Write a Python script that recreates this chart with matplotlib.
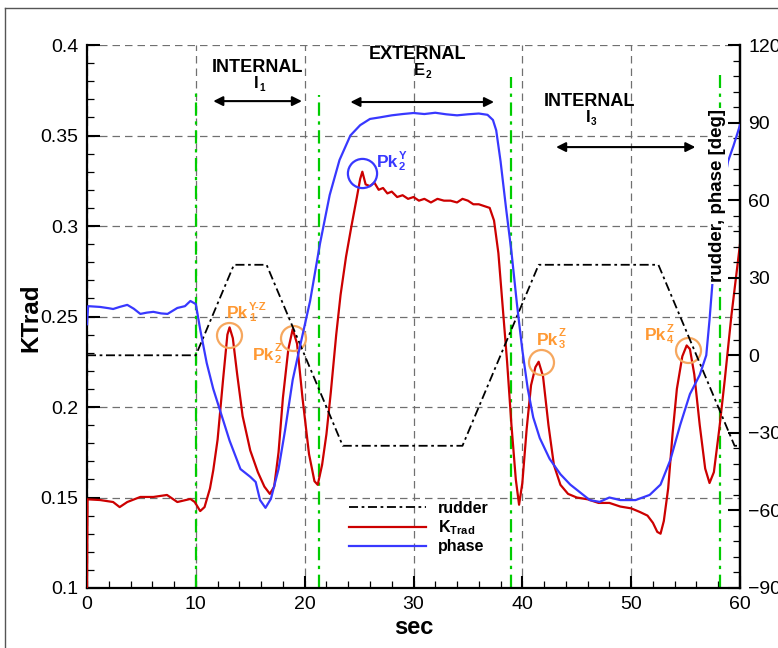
import matplotlib
matplotlib.use("Agg")
import matplotlib.pyplot as plt
from matplotlib.lines import Line2D
from matplotlib.ticker import MultipleLocator

plt.rcParams['font.family'] = ['Liberation Sans', 'DejaVu Sans']
plt.rcParams['mathtext.fontset'] = 'custom'
plt.rcParams['mathtext.rm'] = 'Liberation Sans'
plt.rcParams['mathtext.bf'] = 'Liberation Sans:bold'

# ---- time histories ----
rudder_t = [0, 10, 13.5, 16.5, 23.5, 34.5, 41.5, 52.5, 59.5, 60]
rudder_deg = [0, 0, 35, 35, -35, -35, 35, 35, -35, -35]

ktrad_t = [0.0, 0.05, 1.2, 2.4, 3.0, 3.7, 4.9, 6.1, 7.35, 8.3, 9.5, 9.9, 10.4, 10.8,
           11.3, 11.6, 12.0, 12.5, 12.9, 13.1, 13.4, 13.8, 14.3, 15.0, 15.7, 16.3,
           16.8, 17.2, 17.6, 18.0, 18.5, 18.9, 19.3, 19.8, 20.4, 20.9, 21.2, 21.6,
           22.0, 22.4, 22.9, 23.3, 23.8, 24.3, 24.8, 25.1, 25.3, 25.6, 26.0, 26.4,
           26.8, 27.2, 27.6, 28.0, 28.5, 29.0, 29.5, 30.0, 30.5, 31.0, 31.6, 32.2,
           32.8, 33.4, 34.0, 34.5, 35.0, 35.5, 36.0, 36.5, 37.0, 37.4, 37.8, 38.2,
           38.6, 39.0, 39.4, 39.7, 40.0, 40.4, 40.8, 41.2, 41.5, 41.9, 42.4, 42.9,
           43.5, 44.2, 45.0, 46.0, 47.0, 48.0, 49.0, 50.0, 50.8, 51.5, 52.0, 52.4,
           52.7, 53.0, 53.4, 53.8, 54.2, 54.7, 55.1, 55.4, 55.8, 56.3, 56.8, 57.2,
           57.6, 58.1, 58.6, 59.2, 59.6, 60.0]
ktrad = [0.100, 0.149, 0.1486, 0.1475, 0.1447, 0.1475, 0.1503, 0.1503, 0.1514, 0.1475,
         0.1492, 0.1475, 0.1425, 0.1447, 0.155, 0.165, 0.182, 0.215, 0.240, 0.244,
         0.238, 0.218, 0.195, 0.176, 0.164, 0.156, 0.152, 0.156, 0.175, 0.205,
         0.232, 0.243, 0.235, 0.205, 0.174, 0.159, 0.157, 0.168, 0.185, 0.208,
         0.240, 0.262, 0.283, 0.300, 0.316, 0.326, 0.330, 0.323, 0.322, 0.324,
         0.320, 0.321, 0.318, 0.319, 0.316, 0.317, 0.315, 0.316, 0.314, 0.315,
         0.313, 0.315, 0.314, 0.314, 0.313, 0.315, 0.314, 0.312, 0.312, 0.311,
         0.310, 0.303, 0.285, 0.255, 0.225, 0.190, 0.160, 0.146, 0.158, 0.188,
         0.212, 0.222, 0.225, 0.217, 0.190, 0.168, 0.157, 0.152, 0.150, 0.149,
         0.147, 0.147, 0.145, 0.144, 0.142, 0.140, 0.136, 0.131, 0.130, 0.137,
         0.155, 0.185, 0.210, 0.228, 0.234, 0.232, 0.218, 0.190, 0.166, 0.158,
         0.164, 0.188, 0.215, 0.250, 0.270, 0.290]

phase_t = [0.0, 0.1, 1.2, 2.0, 2.4, 3.0, 3.7, 4.3, 4.9, 5.5, 6.1, 6.8, 7.4, 8.3, 9.0,
           9.5, 10.0, 10.4, 11.0, 11.6, 12.2, 13.1, 14.1, 15.0, 15.5, 15.9, 16.4,
           16.9, 17.6, 18.2, 18.9, 19.6, 20.5, 21.4, 22.3, 23.2, 24.2, 25.1, 26.0,
           26.9, 28.0, 29.0, 30.0, 31.0, 32.0, 33.0, 34.0, 35.0, 36.0, 36.8, 37.3,
           37.6, 38.0, 38.5, 39.0, 39.5, 40.0, 40.5, 41.0, 41.6, 42.5, 43.5, 44.4,
           45.3, 46.2, 47.1, 48.0, 49.0, 50.4, 51.7, 52.7, 53.6, 54.5, 55.4, 56.3,
           56.9, 57.2, 57.6, 58.2, 58.9, 59.4, 60.0]
phase_deg = [12, 19, 18.7, 18.2, 17.9, 18.7, 19.5, 18, 16.0, 16.5, 16.8, 16.2, 16.0,
             18.3, 19, 21, 19.8, 10, -3, -13, -21, -33, -44, -47, -49, -56, -59,
             -55.5, -44, -29, -9.5, 4, 21, 43, 62, 75.5, 85, 89, 91.4, 92, 92.8,
             93.3, 93.7, 93.3, 93.8, 93.2, 92.8, 93.2, 93.5, 93, 91, 87, 75, 57,
             40, 20, 2, -13, -24, -32, -40, -46, -50, -53, -56, -56.7, -55, -56,
             -56, -54, -50, -40.5, -27, -15, -7.6, 0, 13.7, 35, 58, 75, 81, 89]

# regime switches (green) and the level where each marker line stops
switch_t = [10.0, 21.3, 38.95, 58.2]
switch_top = [0.3735, 0.3724, 0.3823, 0.3834]

# tracked peaks
peak_t = [13.05, 18.9, 41.7, 55.2]
peak_k = [0.2398, 0.2381, 0.2249, 0.2315]
peak_sub = ['1', '2', '3', '4']
peak_sup = ['Y-Z', 'Z', 'Z', 'Z']
peak_lab_t = [12.86, 15.25, 41.35, 51.27]
peak_lab_k = [0.2492, 0.2260, 0.2343, 0.2370]
ypeak_t, ypeak_k = 25.27, 0.3293
ypeak_lab_t, ypeak_lab_k = 26.65, 0.3326

ORANGE = '#FF9933'
ORANGE_RING = '#F6A75E'
RED = '#CC0000'
BLUE = '#3838FF'
GREEN = '#00CC00'

fig = plt.figure(figsize=(7.78, 6.48), dpi=100)
ax = fig.add_axes([87 / 778, 60 / 648, 653 / 778, 543 / 648])
ax2 = ax.twinx()

# left axis: KTrad
ax.set_xlim(0, 60)
ax.set_ylim(0.1, 0.4)
ax.xaxis.set_major_locator(MultipleLocator(10))
ax.xaxis.set_minor_locator(MultipleLocator(2))
ax.yaxis.set_major_locator(MultipleLocator(0.05))
ax.yaxis.set_minor_locator(MultipleLocator(0.01))
ax.set_yticks([0.1, 0.15, 0.2, 0.25, 0.3, 0.35, 0.4])
ax.set_yticklabels(['0.1', '0.15', '0.2', '0.25', '0.3', '0.35', '0.4'])
ax.grid(True, which='major', color='#707070', lw=0.9, ls=(0, (6, 4)))

# right axis: rudder, phase
ax2.set_ylim(-90, 120)
ax2.yaxis.set_major_locator(MultipleLocator(30))
ax2.yaxis.set_minor_locator(MultipleLocator(6))

for a in (ax, ax2):
    a.spines['top'].set_visible(False)
    for s in a.spines.values():
        s.set_linewidth(1.6)
ax2.spines['left'].set_visible(False)
ax2.spines['bottom'].set_visible(False)

ax.tick_params(which='major', direction='in', length=9, width=1.5, labelsize=14, pad=6,
               top=False, right=False)
ax.tick_params(which='minor', direction='in', length=5, width=0.9, top=False, right=False)
ax2.tick_params(which='major', direction='in', length=9, width=1.5, labelsize=14, pad=6)
ax2.tick_params(which='minor', direction='in', length=5, width=0.9)

# curves
for t, top in zip(switch_t, switch_top):
    ax.plot([t, t], [0.1, top], color=GREEN, lw=1.6, ls=(0, (6, 2.5, 1.5, 2.5)), zorder=2)
lk, = ax.plot(ktrad_t, ktrad, color=RED, lw=1.6, zorder=3)
lr, = ax2.plot(rudder_t, rudder_deg, color='black', lw=1.3, ls=(0, (5, 2, 1.5, 2)), zorder=2)
lp, = ax2.plot(phase_t, phase_deg, color=BLUE, lw=1.6, zorder=3)

# peak rings
ax.plot(peak_t, peak_k, 'o', ms=18, mfc='none', mec=ORANGE_RING, mew=1.6, zorder=4)
ax.plot([ypeak_t], [ypeak_k], 'o', ms=21, mfc='none', mec=BLUE, mew=1.6, zorder=4)


def sub_sup(x, y, base, sub, sup, color, size, ratio=0.65):
    t = ax.text(x, y, base, color=color, fontsize=size, fontweight='bold',
                ha='left', va='baseline', zorder=5)
    small = size * ratio
    if sub:
        ax.annotate(sub, xy=(1, 0), xycoords=t, xytext=(0.3, -0.3), textcoords='offset points',
                    color=color, fontsize=small, fontweight='bold', ha='left', va='baseline')
    if sup:
        ax.annotate(sup, xy=(1, 1), xycoords=t, xytext=(0.3, 3.2), textcoords='offset points',
                    color=color, fontsize=small, fontweight='bold', ha='left', va='top')
    return t


for x, y, s, p in zip(peak_lab_t, peak_lab_k, peak_sub, peak_sup):
    sub_sup(x, y, 'Pk', s, p, ORANGE, 12.5)
sub_sup(ypeak_lab_t, ypeak_lab_k, 'Pk', '2', 'Y', BLUE, 12.5)

# regime annotations
regions = [
    ('INTERNAL', 'I', '1', 15.7, 0.3878, 0.3765, 11.6, 19.75, 0.369),
    ('EXTERNAL', 'E', '2', 30.4, 0.3945, 0.3835, 24.2, 37.4, 0.3685),
    ('INTERNAL', 'I', '3', 46.2, 0.369, 0.3575, 43.1, 55.9, 0.3436),
]
for word, letter, idx, xc, yw, yl, xa, xb, ya in regions:
    ax.text(xc, yw, word, ha='center', va='center', fontsize=13, fontweight='bold', zorder=5)
    sub_sup(xc - 0.35, yl, letter, idx, None, 'black', 12, ratio=0.6)
    ax.annotate('', xy=(xa, ya), xytext=(xb, ya),
                arrowprops=dict(arrowstyle='<|-|>', color='black', lw=1.5,
                                mutation_scale=14, shrinkA=0, shrinkB=0))

ax.set_xlabel('sec', fontsize=17, fontweight='bold', labelpad=2)
ax.set_ylabel('KTrad', fontsize=17.5, fontweight='bold')
ax.yaxis.set_label_coords(-(87 - 42) / 653, 0.497)
fig.text(718 / 778, 1 - 196 / 648, 'rudder, phase [deg]', rotation=90, ha='center',
         va='center', fontsize=13.5, fontweight='bold',
         bbox=dict(fc='white', ec='none', pad=1.0))

leg = ax.legend([lr, lk, lp], ['rudder', r'$\mathbf{K}_{\mathbf{Trad}}$', 'phase'],
                loc='upper left', bbox_to_anchor=(341 / 778, 1 - 493 / 648),
                bbox_transform=fig.transFigure, frameon=False, borderpad=0,
                handlelength=4.8, handletextpad=0.75, labelspacing=0.15,
                prop=dict(size=11.5, weight='bold'))

# page frame
fig.add_artist(Line2D([5 / 778, 5 / 778], [0, 1 - 8 / 648], transform=fig.transFigure,
                      color='#555555', lw=1.0))
fig.add_artist(Line2D([5 / 778, 1], [1 - 8 / 648, 1 - 8 / 648], transform=fig.transFigure,
                      color='#555555', lw=1.0))

fig.savefig('out.png', dpi=100)
